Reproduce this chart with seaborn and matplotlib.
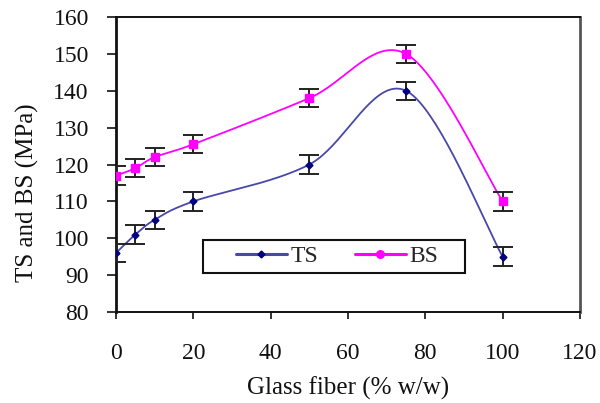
import numpy as np
import pandas as pd
import matplotlib
matplotlib.use("Agg")
import matplotlib.pyplot as plt
from matplotlib.lines import Line2D
from matplotlib.patches import Rectangle
import seaborn as sns

# Glass fiber content (% w/w)
glass_fiber = [0, 5, 10, 20, 50, 75, 100]
# Tensile strength (MPa)
ts_values = [96, 101, 105, 110, 120, 140, 95]
# Bending strength (MPa)
bs_values = [117, 119, 122, 125.5, 138, 150, 110]
# Error bar half-widths (MPa)
ts_err = [2.5, 2.5, 2.5, 2.5, 2.5, 2.5, 2.5]
bs_err = [2.5, 2.5, 2.5, 2.5, 2.5, 2.5, 2.5]

x_ticks = [0, 20, 40, 60, 80, 100, 120]
y_ticks = [80, 90, 100, 110, 120, 130, 140, 150, 160]

sns.set_theme(style="white")
plt.rcParams["font.family"] = ["Liberation Serif", "DejaVu Serif"]

FS = 17
LABEL_FS = 18


def smooth_curve(xs, ys, n=40):
    """Smoothed line: cubic Bezier segments with Catmull-Rom tangents."""
    xs = np.asarray(xs, float)
    ys = np.asarray(ys, float)
    pts = np.column_stack([xs, ys])
    out = []
    for i in range(len(pts) - 1):
        p0 = pts[i - 1] if i > 0 else pts[i]
        p1 = pts[i]
        p2 = pts[i + 1]
        p3 = pts[i + 2] if i + 2 < len(pts) else pts[i + 1]
        c1 = p1 + (p2 - p0) / 6.0
        c2 = p2 - (p3 - p1) / 6.0
        t = np.linspace(0, 1, n)[:, None]
        seg = ((1 - t) ** 3) * p1 + 3 * ((1 - t) ** 2) * t * c1 + 3 * (1 - t) * t ** 2 * c2 + t ** 3 * p2
        out.append(seg if i == 0 else seg[1:])
    seg = np.vstack(out)
    return seg[:, 0], seg[:, 1]


ts_color_line = "#4848AA"
ts_color_mark = "#000080"
bs_color = "#FF00FF"
ink = "#111111"

fig = plt.figure(figsize=(6.0, 4.03), dpi=100)
ax = fig.add_axes([0.1933, 0.2258, 0.7734, 0.732])

tx, ty = smooth_curve(glass_fiber, ts_values)
bx, by = smooth_curve(glass_fiber, bs_values)
curves = pd.concat([
    pd.DataFrame({"x": tx, "y": ty, "series": "TS"}),
    pd.DataFrame({"x": bx, "y": by, "series": "BS"}),
])
sns.lineplot(data=curves, x="x", y="y", hue="series", units="series",
             estimator=None, sort=False,
             palette={"TS": ts_color_line, "BS": bs_color},
             linewidth=1.3, legend=False, ax=ax)

ax.errorbar(glass_fiber, ts_values, yerr=ts_err, fmt="none", ecolor="#222222",
            elinewidth=1.4, capsize=7.5, capthick=1.4, zorder=3)
ax.errorbar(glass_fiber, bs_values, yerr=bs_err, fmt="none", ecolor="#222222",
            elinewidth=1.4, capsize=7.5, capthick=1.4, zorder=3)
ax.plot(glass_fiber, ts_values, linestyle="none", marker="D", markersize=3.5,
        color=ts_color_mark, zorder=4)
ax.plot(glass_fiber, bs_values, linestyle="none", marker="s", markersize=5.5,
        color=bs_color, zorder=4)

ax.set_xlim(0, 120)
ax.set_ylim(80, 160)
ax.set_xticks(x_ticks)
ax.set_yticks(y_ticks)
ax.tick_params(axis="both", labelsize=FS, colors=ink, direction="out", width=1.2)
ax.tick_params(axis="y", length=6.5, pad=13)
ax.tick_params(axis="x", length=5, pad=17.5)
ax.tick_params(bottom=True, left=True)
for side in ["left", "bottom", "top"]:
    ax.spines[side].set_color(ink)
    ax.spines[side].set_linewidth(1.4)
ax.spines["left"].set_linewidth(2.0)
ax.spines["right"].set_color("#555555")
ax.spines["right"].set_linewidth(2.0)

ax.set_xlabel("Glass fiber (% w/w)", fontsize=LABEL_FS, color=ink, labelpad=9)
ax.set_ylabel("TS and BS (MPa)", fontsize=LABEL_FS, color=ink, labelpad=10)
ax.yaxis.set_label_coords(-0.166, 0.403)

# legend box
ax.add_patch(Rectangle((0.1875, 0.1322), 0.5647, 0.1119, transform=ax.transAxes,
                       facecolor="white", edgecolor=ink, linewidth=1.5, zorder=5))
handles = [
    Line2D([0], [0], color=ts_color_line, linewidth=2.2, marker="D",
           markersize=3.5, markerfacecolor=ts_color_mark, markeredgecolor=ts_color_mark),
    Line2D([0], [0], color=bs_color, linewidth=2.2, marker="o",
           markersize=5.5, markerfacecolor=bs_color, markeredgecolor=bs_color),
]
leg = ax.legend(handles, ["TS", "BS"], ncol=2, loc="center",
                bbox_to_anchor=(0.4763, 0.188), fontsize=FS, frameon=False,
                handlelength=2.16, handletextpad=0.17, columnspacing=1.53,
                borderpad=0.0)
leg.set_zorder(6)

fig.savefig("out.png", dpi=100, facecolor="white")
